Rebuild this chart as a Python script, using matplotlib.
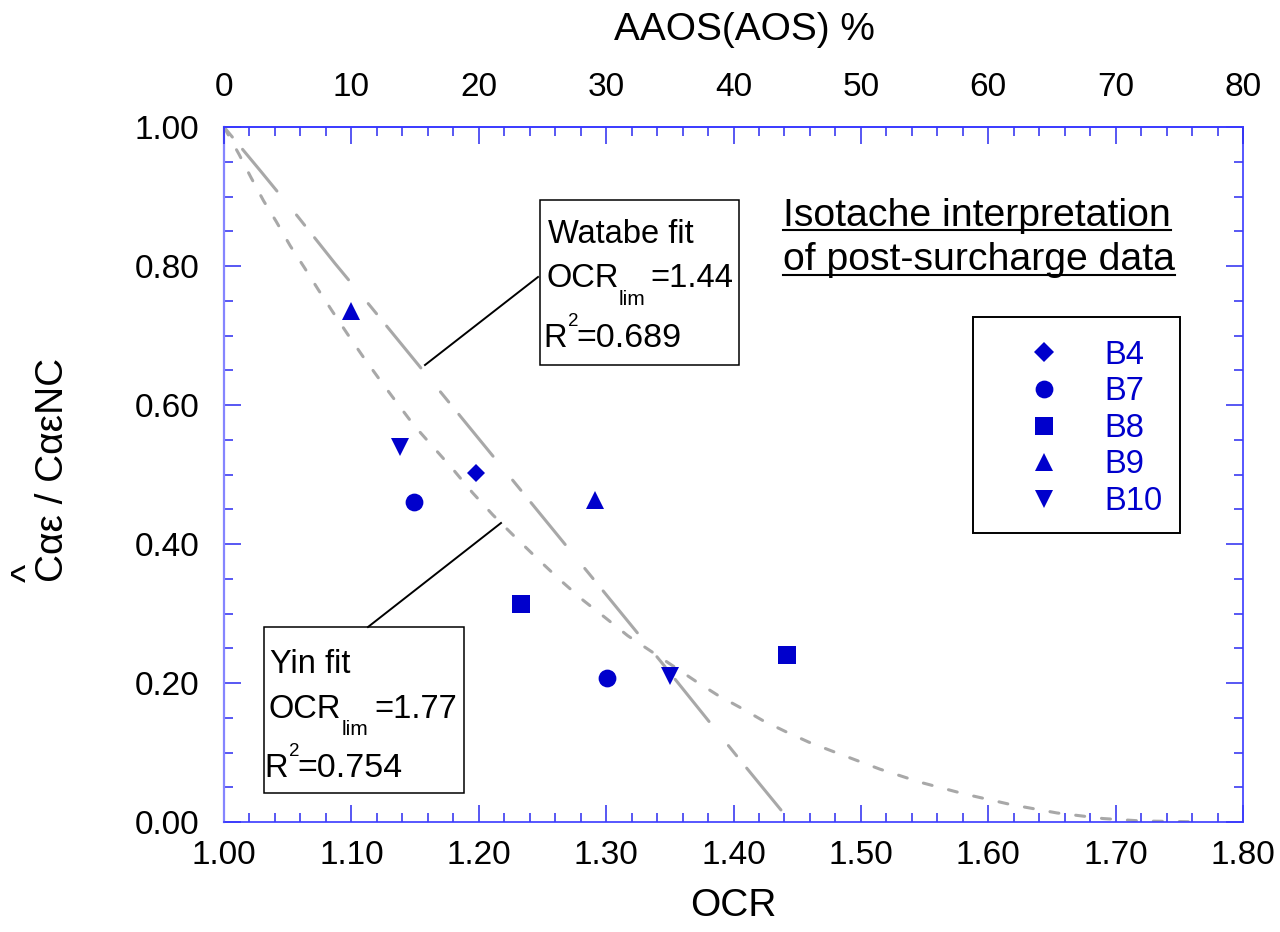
import matplotlib
matplotlib.use('Agg')
import matplotlib.pyplot as plt
from matplotlib.ticker import MultipleLocator, FormatStrFormatter, FixedLocator
from matplotlib.lines import Line2D
from matplotlib.patches import Rectangle

plt.rcParams['font.family'] = ['Liberation Sans', 'DejaVu Sans']
plt.rcParams['lines.scale_dashes'] = False

# ---------------- data ----------------
ocr_ticks = [1.00, 1.10, 1.20, 1.30, 1.40, 1.50, 1.60, 1.70, 1.80]
aaos_ticks = [0, 10, 20, 30, 40, 50, 60, 70, 80]
y_ticks = [0.00, 0.20, 0.40, 0.60, 0.80, 1.00]

b4_ocr = [1.198]
b4_y = [0.502]
b7_ocr = [1.149, 1.301]
b7_y = [0.461, 0.207]
b8_ocr = [1.233, 1.442]
b8_y = [0.313, 0.240]
b9_ocr = [1.100, 1.291]
b9_y = [0.735, 0.463]
b10_ocr = [1.138, 1.350]
b10_y = [0.540, 0.210]

# Watabe fit
watabe_ocr = [1.000, 1.029, 1.058, 1.087, 1.115, 1.231, 1.346, 1.403, 1.445]
watabe_y = [1.000, 0.936, 0.871, 0.804, 0.742, 0.482, 0.224, 0.094, 0.000]

# Yin fit
yin_ocr = [1.000, 1.012, 1.021, 1.031, 1.041, 1.052, 1.063, 1.074, 1.085, 1.097,
           1.109, 1.122, 1.135, 1.149, 1.164, 1.180, 1.195, 1.211, 1.228, 1.246,
           1.264, 1.282, 1.300, 1.317, 1.335, 1.370, 1.388, 1.405, 1.423, 1.441,
           1.459, 1.476, 1.515, 1.547, 1.582, 1.618, 1.654, 1.690, 1.720, 1.770]
yin_y = [1.000, 0.960, 0.928, 0.894, 0.864, 0.829, 0.798, 0.766, 0.735, 0.702,
         0.670, 0.637, 0.605, 0.571, 0.540, 0.507, 0.474, 0.442, 0.411, 0.379,
         0.348, 0.319, 0.293, 0.268, 0.246, 0.203, 0.182, 0.165, 0.146, 0.130,
         0.115, 0.103, 0.076, 0.057, 0.040, 0.025, 0.013, 0.005, 0.0015, 0.000]

series_names = ['B4', 'B7', 'B8', 'B9', 'B10']

# ---------------- figure ----------------
W, H = 1280, 932
def fx(x):
    return x / W
def fy(y):
    return 1 - y / H

fig = plt.figure(figsize=(W / 100, H / 100), dpi=100)
ax = fig.add_axes([fx(224), fy(822), (1243 - 224) / W, (822 - 127) / H])
ax.set_xlim(1.0, 1.8)
ax.set_ylim(0.0, 1.0)

MC = '#0000cc'
GRAY = '#a8a8a8'
TICKC = '#2a2af0'

ax.plot(watabe_ocr, watabe_y, color=GRAY, lw=2.2, dashes=[9.4, 11.5, 38.9, 22.3],
        dash_capstyle='round', zorder=2)
ax.plot(yin_ocr, yin_y, color=GRAY, lw=2.2, dashes=[6.5, 12.2],
        dash_capstyle='round', zorder=2)

h4, = ax.plot(b4_ocr, b4_y, ls='none', marker='D', ms=8.8, color=MC, mew=0, zorder=3)
h7, = ax.plot(b7_ocr, b7_y, ls='none', marker='o', ms=12.8, color=MC, mew=0, zorder=3)
h8, = ax.plot(b8_ocr, b8_y, ls='none', marker='s', ms=13, color=MC, mew=0, zorder=3)
h9, = ax.plot(b9_ocr, b9_y, ls='none', marker='^', ms=13, color=MC, mew=0, zorder=3)
h10, = ax.plot(b10_ocr, b10_y, ls='none', marker='v', ms=13, color=MC, mew=0, zorder=3)

# axes ticks
ax.xaxis.set_major_locator(FixedLocator(ocr_ticks))
ax.xaxis.set_minor_locator(MultipleLocator(0.02))
ax.yaxis.set_major_locator(FixedLocator(y_ticks))
ax.yaxis.set_minor_locator(MultipleLocator(0.05))
ax.xaxis.set_major_formatter(FormatStrFormatter('%.2f'))
ax.yaxis.set_major_formatter(FormatStrFormatter('%.2f'))
ax.tick_params(axis='both', which='both', direction='in', color=TICKC, width=1.1,
               labelsize=24, labelcolor='black')
ax.tick_params(axis='x', which='both', top=False, bottom=True, pad=13)
ax.tick_params(axis='y', which='both', left=True, right=True, pad=18)
ax.tick_params(which='major', length=12.2)
ax.tick_params(which='minor', length=6.5)

ax2 = ax.twiny()
ax2.set_xlim(aaos_ticks[0], aaos_ticks[-1])
ax2.xaxis.set_major_locator(FixedLocator(aaos_ticks))
ax2.xaxis.set_minor_locator(MultipleLocator(2))
ax2.tick_params(axis='x', which='both', direction='in', color=TICKC, width=1.1,
                labelsize=24, pad=17)
ax2.tick_params(which='major', length=12.2)
ax2.tick_params(which='minor', length=6.5)

for a in (ax, ax2):
    for s in a.spines.values():
        s.set_color('#3a3aff')
        s.set_linewidth(1.2)
ax.spines['left'].set_color('#8585ff')
ax.spines['left'].set_linewidth(1.6)
for k in ('left', 'right', 'bottom'):
    ax2.spines[k].set_visible(False)

# axis titles
fig.text(fx(733), fy(916), 'OCR', fontsize=28, ha='center', va='baseline')
fig.text(fx(744), fy(40), 'AAOS(AOS) %', fontsize=28, ha='center', va='baseline')
# y label: the hat sits on its own line, aligned over the first "C"
fig.text(fx(41), fy(470), '^\nC\u03b1\u03b5 / C\u03b1\u03b5NC', fontsize=28, rotation=90,
         ha='center', va='center', multialignment='left', linespacing=0.55)

# legend (rows from matplotlib, frame drawn as a fixed box)
leg = ax.legend([h4, h7, h8, h9, h10], series_names, loc='upper left',
                bbox_to_anchor=(fx(973), fy(317)), bbox_transform=fig.transFigure,
                borderaxespad=0, fontsize=23.5, frameon=False,
                borderpad=0.7, labelspacing=0.17,
                handlelength=2.95, handletextpad=0.37, numpoints=1)
for t in leg.get_texts():
    t.set_color(MC)
leg.legend_handles[0].set_markersize(10.5)
fig.add_artist(Rectangle((fx(973), fy(533)), (1180 - 973) / W, (533 - 317) / H,
                         transform=fig.transFigure, fill=False, ec='black',
                         lw=1.4, zorder=5))

# title (underlined)
t1 = fig.text(fx(783), fy(226), 'Isotache interpretation', fontsize=28.3,
              ha='left', va='baseline')
t2 = fig.text(fx(783), fy(270), 'of post-surcharge data', fontsize=28.3,
              ha='left', va='baseline')

# annotation boxes
def box(x0, y0, x1, y1):
    fig.add_artist(Rectangle((fx(x0), fy(y1)), (x1 - x0) / W, (y1 - y0) / H,
                             transform=fig.transFigure, fill=False,
                             ec='black', lw=1.1, zorder=5))

def line(x0, y0, x1, y1):
    fig.add_artist(Line2D([fx(x0), fx(x1)], [fy(y0), fy(y1)],
                          transform=fig.transFigure, color='black', lw=1.4))

box(540, 200, 739, 365)
line(425, 365, 538, 277)
fig.text(fx(548), fy(243), 'Watabe fit', fontsize=23.5, va='baseline')
fig.text(fx(546), fy(287), 'OCR', fontsize=23.5, va='baseline')
fig.text(fx(619), fy(305), 'lim', fontsize=15, va='baseline')
fig.text(fx(650), fy(287), '=1.44', fontsize=23.5, va='baseline')
fig.text(fx(543), fy(347), 'R', fontsize=23.5, va='baseline')
fig.text(fx(568), fy(326), '2', fontsize=13.5, va='baseline')
fig.text(fx(576), fy(347), '=0.689', fontsize=24.5, va='baseline')

box(264, 627, 464, 793)
line(368, 627, 501, 523)
fig.text(fx(270), fy(673), 'Yin fit', fontsize=23.5, va='baseline')
fig.text(fx(269), fy(718), 'OCR', fontsize=23.5, va='baseline')
fig.text(fx(342), fy(735), 'lim', fontsize=15, va='baseline')
fig.text(fx(374), fy(718), '=1.77', fontsize=23.5, va='baseline')
fig.text(fx(264), fy(777), 'R', fontsize=23.5, va='baseline')
fig.text(fx(289), fy(756), '2', fontsize=13.5, va='baseline')
fig.text(fx(297), fy(777), '=0.754', fontsize=24.5, va='baseline')

# underline the title using the rendered text extents
fig.canvas.draw()
r = fig.canvas.get_renderer()
for t, yb in ((t1, 230), (t2, 275)):
    bb = t.get_window_extent(renderer=r)
    fig.add_artist(Line2D([bb.x0 / W, bb.x1 / W], [fy(yb), fy(yb)],
                          transform=fig.transFigure, color='black', lw=1.5))

fig.savefig('out.png', dpi=100)
